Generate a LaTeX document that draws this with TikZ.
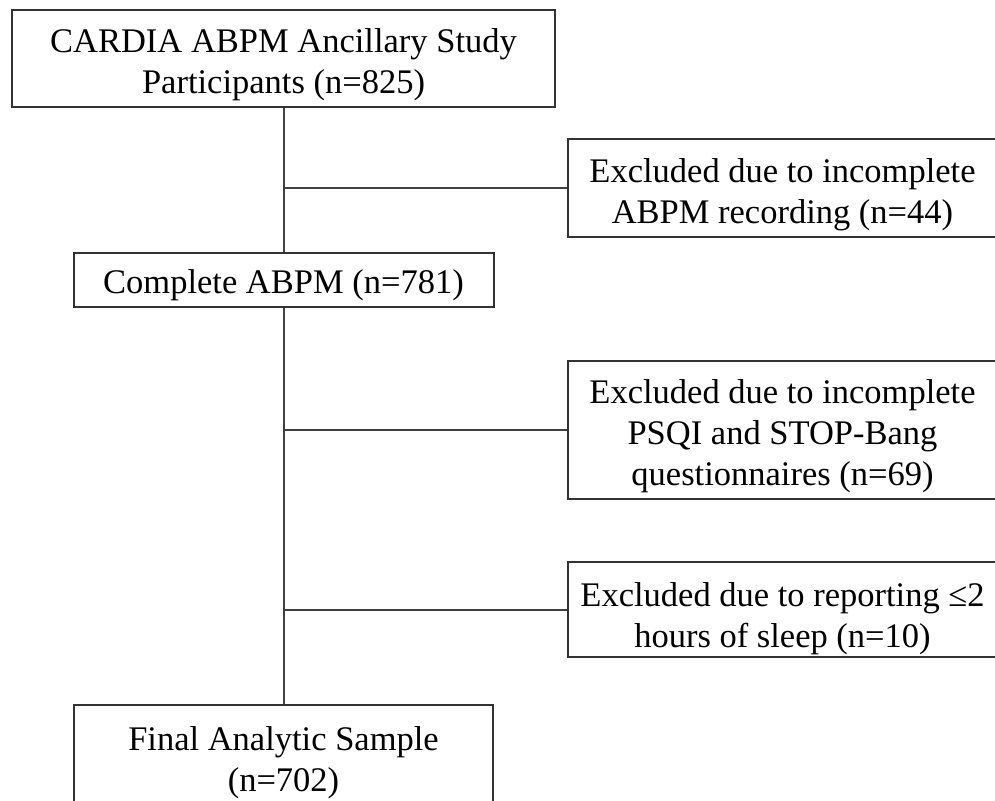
\documentclass[tikz,border=0pt]{standalone}
\usepackage{fontspec}
\setmainfont{Liberation Serif}
\begin{document}
\begin{tikzpicture}[x=1pt,y=-1pt,
  box/.style={draw=black!80, line width=2pt, inner sep=0pt},
  txt/.style={align=center, inner sep=0pt, text=black,
    font=\fontsize{34.5}{41}\selectfont},
  link/.style={draw=black!75, line width=2pt}]
\useasboundingbox (0,0) rectangle (995,800);
\clip (0,0) rectangle (995,800);
\node[box, minimum width=543pt, minimum height=97pt,
  label={[txt, yshift=-6pt]center:{CARDIA ABPM Ancillary Study\\Participants (n=825)}}]
  (b1) at (283.5,58.5) {};
\node[box, minimum width=420pt, minimum height=54pt,
  label={[txt, yshift=-5pt]center:{Complete ABPM (n=781)}}]
  (b2) at (283.5,280) {};
\node[box, minimum width=419pt, minimum height=115pt,
  label={[txt]center:{Final Analytic Sample\\(n=702)}}]
  (b3) at (283.5,762.5) {};
\node[box, minimum width=429pt, minimum height=98pt,
  label={[txt, yshift=-7pt]center:{Excluded due to incomplete\\ABPM recording (n=44)}}]
  (r1) at (782.5,188) {};
\node[box, minimum width=429pt, minimum height=138pt,
  label={[txt, yshift=-6pt]center:{Excluded due to incomplete\\PSQI and STOP-Bang\\questionnaires (n=69)}}]
  (r2) at (782.5,430) {};
\node[box, minimum width=429pt, minimum height=95pt,
  label={[txt, yshift=-9pt]center:{Excluded due to reporting ≤2\\hours of sleep (n=10)}}]
  (r3) at (782.5,609.5) {};
\draw[link] (b1.south) -- (b2.north);
\draw[link] (b2.south) -- (b3.north);
\draw[link] (r1.west) -- (r1.west -| b1.south);
\draw[link] (r2.west) -- (r2.west -| b2.south);
\draw[link] (r3.west) -- (r3.west -| b2.south);
\end{tikzpicture}
\end{document}
